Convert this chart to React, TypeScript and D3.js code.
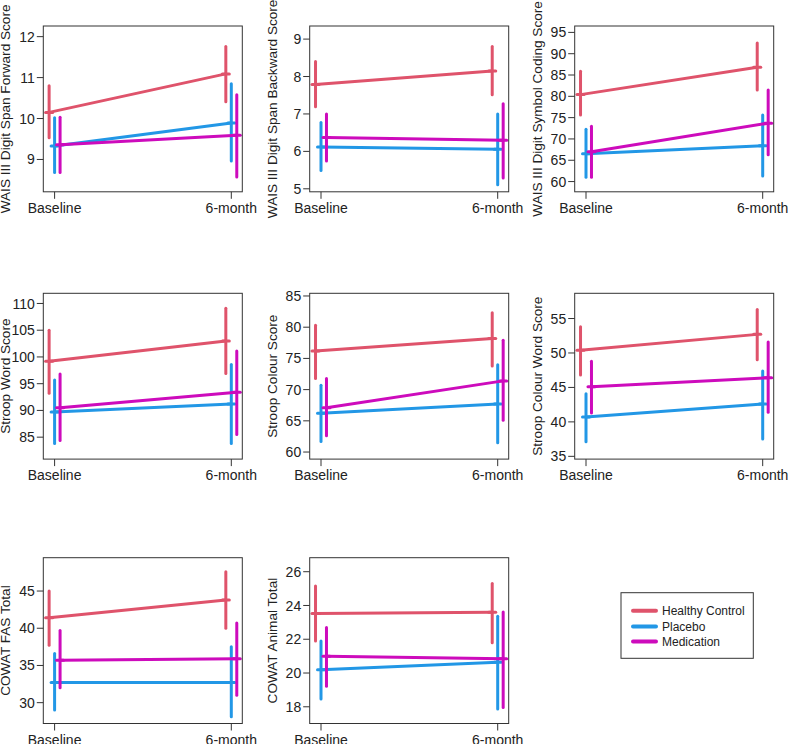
import React from "react";
import * as d3 from "d3";

const timepoints = ["Baseline", "6-month"];
const groups = ["Healthy Control", "Placebo", "Medication"];
const groupColors = ["#DF536B", "#2297E6", "#CD0BBC"];

const measures = [
  "WAIS III Digit Span Forward Score",
  "WAIS III Digit Span Backward Score",
  "WAIS III Digit Symbol Coding Score",
  "Stroop Word Score",
  "Stroop Colour Score",
  "Stroop Colour Word Score",
  "COWAT FAS Total",
  "COWAT Animal Total",
];

const yDomains = [
  [8.21, 12.26],
  [4.92, 9.35],
  [57.6, 96.5],
  [80.9, 111.9],
  [58.87, 85.43],
  [34.6, 58.66],
  [27.2, 49.48],
  [17.01, 26.83],
];

const yTicks = [
  [9, 10, 11, 12],
  [5, 6, 7, 8, 9],
  [60, 65, 70, 75, 80, 85, 90, 95],
  [85, 90, 95, 100, 105, 110],
  [60, 65, 70, 75, 80, 85],
  [35, 40, 45, 50, 55],
  [30, 35, 40, 45],
  [18, 20, 22, 24, 26],
];

// [baseline, 6-month] per measure
const healthyMean = [[10.15, 11.09], [7.79, 8.15], [80.4, 86.8], [99.2, 103.0], [76.2, 78.2], [50.4, 52.7], [41.4, 43.8], [23.52, 23.6]];
const healthyLo = [[9.53, 10.41], [7.19, 7.51], [75.6, 81.5], [93.2, 96.9], [71.8, 73.8], [46.8, 49.0], [37.7, 40.0], [21.9, 21.8]];
const healthyHi = [[10.8, 11.76], [8.4, 8.8], [85.9, 92.5], [105.0, 109.1], [80.3, 82.3], [53.8, 56.3], [45.0, 47.6], [25.15, 25.3]];

const placeboMean = [[9.33, 9.89], [6.12, 6.06], [66.5, 68.4], [89.7, 91.2], [66.2, 67.7], [40.7, 42.6], [32.7, 32.7], [20.19, 20.64]];
const placeboLo = [[8.68, 8.96], [5.49, 5.11], [61.0, 61.3], [83.8, 83.8], [61.7, 61.5], [37.1, 37.5], [29.0, 28.1], [18.46, 17.87]];
const placeboHi = [[10.02, 10.85], [6.77, 7.0], [72.3, 75.6], [95.7, 98.6], [70.7, 74.0], [44.1, 47.4], [36.6, 37.5], [21.9, 23.36]];

const medicationMean = [[9.36, 9.59], [6.37, 6.3], [67.0, 73.7], [90.5, 93.4], [67.1, 71.4], [45.1, 46.4], [35.7, 35.9], [21.0, 20.84]];
const medicationLo = [[8.68, 8.57], [5.74, 5.29], [61.0, 66.3], [84.4, 85.5], [62.6, 65.1], [41.3, 41.4], [32.0, 31.0], [19.21, 17.96]];
const medicationHi = [[10.03, 10.58], [7.0, 7.27], [73.0, 81.5], [96.8, 101.1], [71.8, 77.9], [48.8, 51.6], [39.7, 40.7], [22.69, 23.62]];

const groupMeans = [healthyMean, placeboMean, medicationMean];
const groupLo = [healthyLo, placeboLo, medicationLo];
const groupHi = [healthyHi, placeboHi, medicationHi];
const groupOffsets = [-0.031, 0, 0.031];

const W = 788;
const H = 744;
const colLefts = [43.3, 309.7, 574.7];
const rowTops = [26, 293.3, 557.7];
const panelW = 199;
const panelH = 165.8;
const font = "'Liberation Sans', Arial, sans-serif";
const textColor = "#222";
const axisColor = "#333";

function Panel({ idx }: { idx: number }) {
  const col = idx % 3;
  const row = Math.floor(idx / 3);
  const left = colLefts[col];
  const top = rowTops[row];
  const right = left + panelW;
  const bottom = top + panelH;
  const x = d3.scaleLinear().domain([1, 2]).range([left + 11.3, right - 11]);
  const y = d3.scaleLinear().domain(yDomains[idx]).range([bottom, top]);
  const line = d3
    .line<number>()
    .x((_, i) => 0)
    .y((v) => y(v));

  return (
    <g>
      {groups.map((g, gi) => {
        const means = groupMeans[gi][idx];
        const lo = groupLo[gi][idx];
        const hi = groupHi[gi][idx];
        const pts: [number, number][] = means.map((m, ti) => [x(ti + 1 + groupOffsets[gi]), y(m)]);
        const path = d3.line()(pts) || "";
        return (
          <g key={g} stroke={groupColors[gi]} strokeWidth={3} fill="none" strokeLinecap="round">
            <path d={path} />
            {means.map((m, ti) => {
              const cx = x(ti + 1 + groupOffsets[gi]);
              return (
                <g key={ti}>
                  <line x1={cx} x2={cx} y1={y(lo[ti])} y2={y(hi[ti])} />
                  <line x1={cx - 3.5} x2={cx + 3.5} y1={y(m)} y2={y(m)} />
                </g>
              );
            })}
          </g>
        );
      })}
      <rect x={left} y={top} width={panelW} height={panelH} fill="none" stroke={axisColor} strokeWidth={1} />
      {yTicks[idx].map((t) => (
        <g key={t}>
          <line x1={left - 6.5} x2={left} y1={y(t)} y2={y(t)} stroke={axisColor} strokeWidth={1} />
          <text
            x={left - 8.5}
            y={y(t)}
            dy="0.36em"
            textAnchor="end"
            fontSize={14}
            fontFamily={font}
            fill={textColor}
          >
            {t}
          </text>
        </g>
      ))}
      {timepoints.map((tp, ti) => (
        <g key={tp}>
          <line x1={x(ti + 1)} x2={x(ti + 1)} y1={bottom} y2={bottom + 7} stroke={axisColor} strokeWidth={1} />
          <text
            x={x(ti + 1)}
            y={bottom + 21}
            textAnchor="middle"
            fontSize={14}
            fontFamily={font}
            fill={textColor}
          >
            {tp}
          </text>
        </g>
      ))}
      <text
        transform={`translate(${left - 33},${(top + bottom) / 2}) rotate(-90)`}
        textAnchor="middle"
        fontSize={13.6}
        fontFamily={font}
        fill={textColor}
      >
        {measures[idx]}
      </text>
    </g>
  );
}

function Legend() {
  const lx = 621;
  const ly = 592.7;
  const rowsY = [610.7, 626.5, 641.5];
  return (
    <g>
      <rect x={lx} y={ly} width={132.3} height={65.6} fill="none" stroke={axisColor} strokeWidth={1} />
      {groups.map((g, gi) => (
        <g key={g}>
          <line x1={633} x2={656} y1={rowsY[gi]} y2={rowsY[gi]} stroke={groupColors[gi]} strokeWidth={4} strokeLinecap="round" />
          <text x={662} y={rowsY[gi]} dy="0.36em" fontSize={12} fontFamily={font} fill={textColor}>
            {g}
          </text>
        </g>
      ))}
    </g>
  );
}

export default function App() {
  return (
    <svg
      width={W}
      height={H}
      style={{ position: "absolute", left: 0, top: 0, background: "#fff" }}
    >
      <rect width={W} height={H} fill="#fff" />
      {measures.map((m, i) => (
        <Panel key={m} idx={i} />
      ))}
      <Legend />
    </svg>
  );
}
